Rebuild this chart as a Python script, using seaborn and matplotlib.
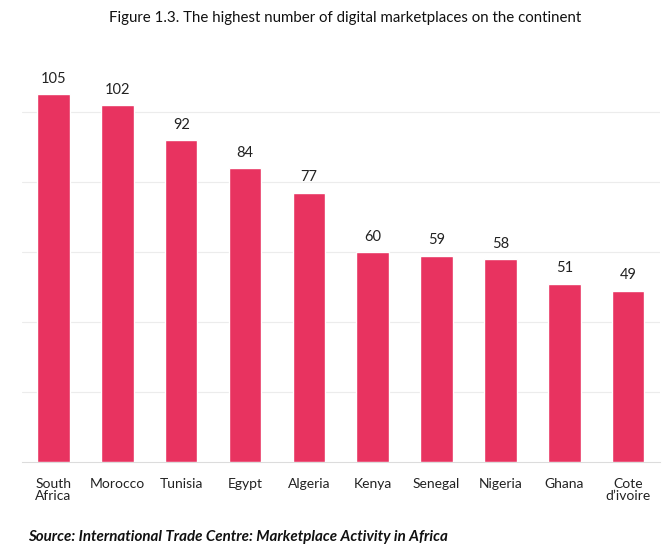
import matplotlib
matplotlib.use("Agg")
import matplotlib.pyplot as plt
import seaborn as sns
import pandas as pd

countries = ["South\nAfrica", "Morocco", "Tunisia", "Egypt", "Algeria",
             "Kenya", "Senegal", "Nigeria", "Ghana", "Cote\nd\u2019ivoire"]
marketplaces = [105, 102, 92, 84, 77, 60, 59, 58, 51, 49]
grid_ticks = [20, 40, 60, 80, 100]

title = "Figure 1.3. The highest number of digital marketplaces on the continent"
source = "Source: International Trade Centre: Marketplace Activity in Africa"

df = pd.DataFrame({"country": countries, "value": marketplaces})

sns.set_theme(style="white")
plt.rcParams["font.family"] = ["Lato", "DejaVu Sans"]

fig = plt.figure(figsize=(6.7, 5.55), dpi=100)
ax = fig.add_axes([21.6 / 670, 0.167, (660 - 21.6) / 670, 0.726])

sns.barplot(data=df, x="country", y="value", color="#E83360",
            width=0.51, saturation=1, ax=ax, zorder=3)

ax.set_ylim(0, 115)
ax.set_xlim(-0.5, len(countries) - 0.5)
ax.set_yticks(grid_ticks)
ax.set_yticklabels([])
ax.tick_params(axis="y", length=0)
ax.yaxis.grid(True, color="#ececec", linewidth=0.8, zorder=0)
ax.xaxis.grid(False)

for s in ["top", "right", "left"]:
    ax.spines[s].set_visible(False)
ax.spines["bottom"].set_color("#dcdcdc")
ax.spines["bottom"].set_linewidth(0.8)

ax.set_xticks([i + 0.5 for i in range(-1, len(countries))], minor=True)
ax.tick_params(axis="x", which="minor", length=5, color="#dcdcdc", width=0.8, direction="out")
ax.tick_params(axis="x", which="major", length=0, pad=11, labelsize=10, labelcolor="#222222")
for lbl in ax.get_xticklabels():
    lbl.set_linespacing(1.05)
ax.set_xlabel("")
ax.set_ylabel("")

for cont in ax.containers:
    ax.bar_label(cont, labels=[str(v) for v in marketplaces], padding=6,
                 fontsize=10.5, color="#222222")

fig.text(0.515, 0.967, title, ha="center", va="center", fontsize=10.8, color="#111111")
fig.text(28 / 670, 1 - 537 / 555, source, ha="left", va="center", fontsize=10.9,
         fontweight="bold", fontstyle="italic", color="#111111")

fig.savefig("out.png", dpi=100)
